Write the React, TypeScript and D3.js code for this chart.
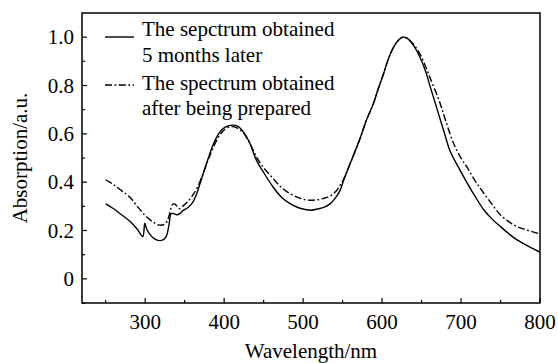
import React from "react";
import * as d3 from "d3";

const wlLater = [250,260,270,280,290,297,299.5,302,307,312,318,323,327,330,333,336,340,344,348,352,356,360,365,370,375,380,386,392,398,405,412,418,425,432,441,450,462,472,483,495,509,520,527,534,541,547,551,560,572,580,589,595,602,608,614,620,626,632,640,648,655,661,668,678,686,697,708,718,729,740,750,760,771,785,800];
const absLater = [0.31,0.29,0.265,0.24,0.205,0.175,0.23,0.205,0.18,0.165,0.158,0.162,0.178,0.22,0.27,0.27,0.265,0.27,0.283,0.29,0.3,0.315,0.35,0.40,0.45,0.50,0.555,0.595,0.62,0.633,0.636,0.63,0.605,0.565,0.49,0.44,0.38,0.34,0.312,0.293,0.284,0.29,0.297,0.31,0.335,0.367,0.405,0.48,0.58,0.655,0.725,0.785,0.85,0.91,0.955,0.985,1.0,0.995,0.965,0.917,0.86,0.795,0.72,0.614,0.53,0.46,0.395,0.34,0.285,0.245,0.216,0.188,0.161,0.135,0.11];

const wlFresh = [250,260,270,280,290,300,310,318,324,328,331,334,337,341,344,349,354,360,367,375,382,390,398,404,410,416,424,432,441,450,462,472,483,495,505,515,525,534,541,547,551,560,572,580,589,595,602,608,614,620,626,632,640,648,655,661,672,680,690,699,708,718,729,740,750,760,771,785,800];
const absFresh = [0.41,0.39,0.365,0.34,0.30,0.262,0.235,0.222,0.225,0.24,0.27,0.305,0.31,0.298,0.29,0.305,0.32,0.345,0.385,0.45,0.51,0.57,0.61,0.625,0.63,0.625,0.605,0.565,0.504,0.46,0.415,0.38,0.353,0.335,0.326,0.326,0.332,0.342,0.36,0.388,0.41,0.48,0.58,0.655,0.725,0.785,0.85,0.91,0.955,0.985,1.0,0.995,0.97,0.93,0.88,0.83,0.74,0.66,0.565,0.505,0.46,0.405,0.353,0.305,0.264,0.238,0.216,0.2,0.186];

const xTicks = [300, 400, 500, 600, 700, 800];
const xMinor = [250, 350, 450, 550, 650, 750];
const yTicks = [0, 0.2, 0.4, 0.6, 0.8, 1.0];
const yMinor = [-0.1, 0.1, 0.3, 0.5, 0.7, 0.9];
const legendLabels = [
  ["The sepctrum obtained", "5 months later"],
  ["The spectrum obtained", "after being prepared"],
];
const xTitle = "Wavelength/nm";
const yTitle = "Absorption/a.u.";

const W = 558, H = 363;
const L = 82, R = 540, T = 13, B = 303;
const FONT = "Liberation Serif, Times New Roman, serif";
const DASH = "7,2.5,1.8,2.5";

export default function App() {
  const x = d3.scaleLinear().domain([220, 800]).range([L, R]);
  const y = d3.scaleLinear().domain([-0.1, 1.1]).range([B, T]);
  const line = d3.line<[number, number]>().x(d => x(d[0])).y(d => y(d[1])).curve(d3.curveCatmullRom.alpha(0.5));
  const later = line(wlLater.map((w, i) => [w, absLater[i]] as [number, number])) || "";
  const fresh = line(wlFresh.map((w, i) => [w, absFresh[i]] as [number, number])) || "";
  const ts = { fontFamily: FONT, fontSize: 21 } as React.CSSProperties;

  return (
    <svg width={W} height={H} style={{ position: "absolute", left: 0, top: 0, background: "#fff" }}>
      <rect x={0} y={0} width={W} height={H} fill="#fff" />
      <defs>
        <clipPath id="clip"><rect x={L} y={T} width={R - L} height={B - T} /></clipPath>
      </defs>
      <g clipPath="url(#clip)">
        <path d={later} fill="none" stroke="#000" strokeWidth={1.4} />
        <path d={fresh} fill="none" stroke="#000" strokeWidth={1.4} strokeDasharray={DASH} />
      </g>
      <rect x={L} y={T} width={R - L} height={B - T} fill="none" stroke="#000" strokeWidth={1.5} />
      {xTicks.map(t => (
        <g key={"xt" + t}>
          <line x1={x(t)} x2={x(t)} y1={B} y2={B - 5} stroke="#000" strokeWidth={1.2} />
          <text x={x(t)} y={329} style={ts} textAnchor="middle">{t}</text>
        </g>
      ))}
      {xMinor.map(t => (
        <line key={"xm" + t} x1={x(t)} x2={x(t)} y1={B} y2={B - 3} stroke="#000" strokeWidth={1.2} />
      ))}
      {yTicks.map(t => (
        <g key={"yt" + t}>
          <line x1={L} x2={L + 5} y1={y(t)} y2={y(t)} stroke="#000" strokeWidth={1.2} />
          <text x={74} y={y(t) + 7} style={ts} textAnchor="end">{t === 0 ? "0" : t.toFixed(1)}</text>
        </g>
      ))}
      {yMinor.map(t => (
        <line key={"ym" + t} x1={L} x2={L + 3} y1={y(t)} y2={y(t)} stroke="#000" strokeWidth={1.2} />
      ))}
      <text x={(L + R) / 2} y={358} style={ts} textAnchor="middle">{xTitle}</text>
      <text transform={`translate(27,${(T + B) / 2}) rotate(-90)`} style={ts} textAnchor="middle">{yTitle}</text>
      <g>
        <line x1={105} x2={134} y1={37} y2={37} stroke="#000" strokeWidth={1.4} />
        <text x={142} y={36} style={ts}>{legendLabels[0][0]}</text>
        <text x={142} y={62} style={ts}>{legendLabels[0][1]}</text>
        <line x1={105} x2={134} y1={85} y2={85} stroke="#000" strokeWidth={1.4} strokeDasharray={DASH} />
        <text x={142} y={90} style={ts}>{legendLabels[1][0]}</text>
        <text x={142} y={115} style={ts}>{legendLabels[1][1]}</text>
      </g>
    </svg>
  );
}
